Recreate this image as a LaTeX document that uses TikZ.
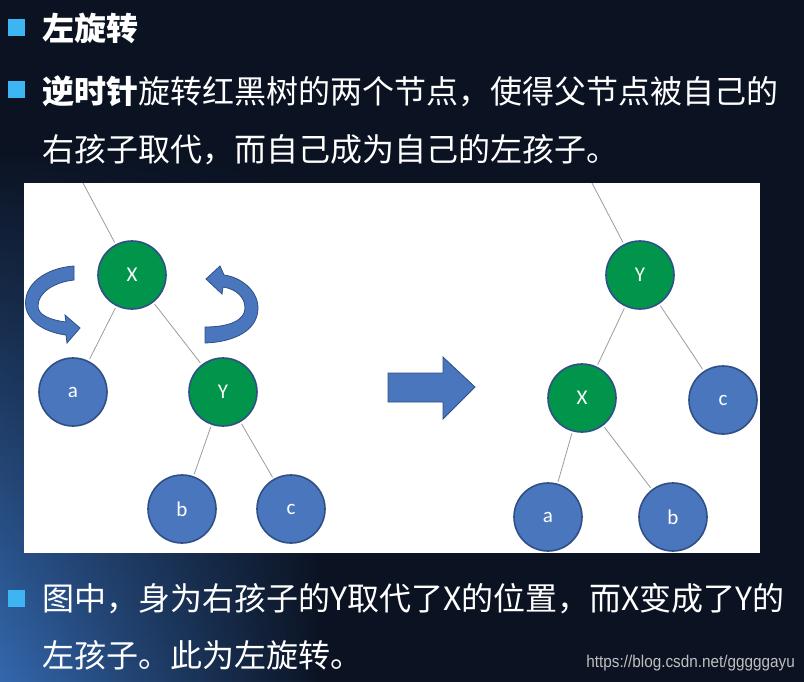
\documentclass[tikz,border=0pt]{standalone}
\usepackage{fontspec}
\usetikzlibrary{fadings}
\newfontfamily\cjk{Noto Sans CJK SC}
\newfontfamily\lat{Carlito}
\newfontfamily\urlfnt{Liberation Sans}
\definecolor{bgdark}{HTML}{0B1322}
\definecolor{bglight}{HTML}{3468AE}
\definecolor{bullet}{HTML}{3DB5F2}
\definecolor{nodegreen}{HTML}{00954A}
\definecolor{nodeblue}{HTML}{4A76BE}
\definecolor{nodeline}{HTML}{2F4F86}
\definecolor{edgegray}{HTML}{9C9C9C}
\pgfdeclarehorizontalshading{bgshade}{100bp}{color(0bp)=(bglight); color(25bp)=(bglight);
  color(45bp)=(bgdark); color(100bp)=(bgdark)}

\begin{document}
\begin{tikzpicture}[x=1pt,y=-1pt,
    txt/.style={anchor=west, inner sep=0pt, text=white, font=\cjk\fontsize{32}{32}\selectfont},
    blt/.style={fill=bullet, minimum size=17pt, inner sep=0pt},
    tnode/.style={circle, draw=nodeline, line width=1.6pt, minimum size=68pt, inner sep=0pt,
      text=white, font=\lat\fontsize{21}{21}\selectfont},
    rednode/.style={tnode, fill=nodegreen},
    leaf/.style={tnode, fill=nodeblue},
    link/.style={draw=edgegray, line width=0.8pt, shorten >=2pt, shorten <=2pt},
    turn/.style={fill=nodeblue, draw=nodeline, line width=0.8pt}]
    \useasboundingbox (0,0) rectangle (804,681);
    % background
    \fill[bgdark] (0,0) rectangle (804,681);
    \shade[shading=bgshade, path fading=north] (0,150) rectangle (806,681);

    % text
    \node[blt] (b1) at (16,27) {};
    \node[txt] (t1) at (42,28) {\textbf{左旋转}};
    \node[blt] (b2) at (16,89) {};
    \node[txt] (t2) at (42,91) {\textbf{逆时针}旋转红黑树的两个节点，使得父节点被自己的};
    \node[txt] (t3) at (42,150) {右孩子取代，而自己成为自己的左孩子。};
    \node[blt] (b3) at (16,598) {};
    \node[txt] (t4) at (42,599) {图中，身为右孩子的Y取代了X的位置，而X变成了Y的};
    \node[txt] (t5) at (42,655) {左孩子。此为左旋转。};
    \node[anchor=east, inner sep=0pt, text=gray!50!white, xscale=0.9,
      font=\urlfnt\fontsize{17}{17}\selectfont] (url) at (795,663) {https://blog.csdn.net/gggggayu};

    % panel
    \fill[white] (24,183) rectangle (760,553);

    % before
    \coordinate (ltop) at (83,183);
    \node[rednode] (lX) at (132,275) {X};
    \node[leaf] (la) at (73,392) {a};
    \node[rednode] (lY) at (223,392) {Y};
    \node[leaf] (lb) at (182,509) {b};
    \node[leaf] (lc) at (291,509) {c};
    \draw[link, shorten <=0pt] (ltop) -- (lX);
    \draw[link] (lX) -- (la);
    \draw[link] (lX) -- (lY);
    \draw[link] (lY) -- (lb);
    \draw[link] (lY) -- (lc);

    \draw[turn] (74,266) .. controls (45,268) and (22,285) .. (26,308)
      .. controls (30,325) and (50,333) .. (66,335) -- (67,343) -- (80,328) -- (65,315) -- (66,322)
      .. controls (50,320) and (38,315) .. (38,306)
      .. controls (38,292) and (55,282) .. (74,280) -- cycle;
    \draw[turn] (205,343) .. controls (235,342) and (258,330) .. (258,308)
      .. controls (258,290) and (240,277) .. (224,275) -- (220,266) -- (206,279) -- (222,294) -- (223,287)
      .. controls (236,289) and (245,297) .. (245,308)
      .. controls (245,320) and (230,327) .. (205,327) -- cycle;

    \draw[turn] (388,373) -- (443,373) -- (443,357) -- (475,387) -- (443,419) -- (443,402)
      -- (388,402) -- cycle;

    % after
    \coordinate (rtop) at (592,183);
    \node[rednode] (rY) at (640,275) {Y};
    \node[rednode] (rX) at (582,398) {X};
    \node[leaf] (rc) at (723,400) {c};
    \node[leaf] (ra) at (548,517) {a};
    \node[leaf] (rb) at (673,517) {b};
    \draw[link, shorten <=0pt] (rtop) -- (rY);
    \draw[link] (rY) -- (rX);
    \draw[link] (rY) -- (rc);
    \draw[link] (rX) -- (ra);
    \draw[link] (rX) -- (rb);
\end{tikzpicture}
\end{document}
